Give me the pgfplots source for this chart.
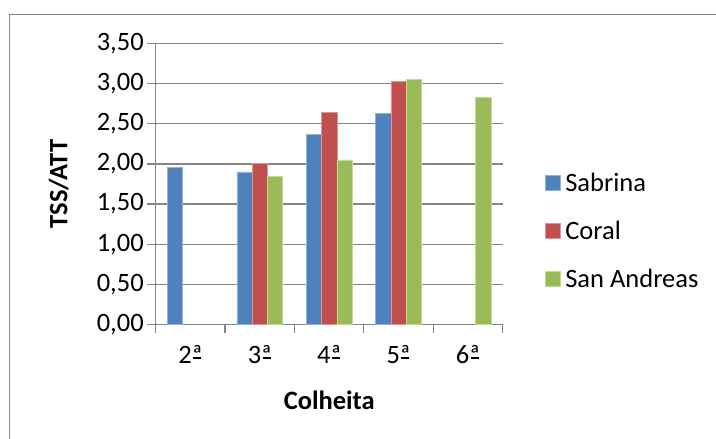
\documentclass[border=0pt]{standalone}
\usepackage{pgfplots}
\pgfplotsset{compat=1.18}
\usepackage{fontspec}
\setmainfont{Carlito}

\definecolor{sabrina}{HTML}{4F81BD}
\definecolor{coral}{HTML}{C0504D}
\definecolor{sanandreas}{HTML}{9BBB59}
\definecolor{axgray}{HTML}{868686}

\newcommand{\chartfont}{\fontsize{26.5}{31}\selectfont}
% ordinal indicator with its underline
\newcommand{\oa}{\setbox0\hbox{ª}\rlap{\hspace{0.05em}\rule[0.2em]{\dimexpr\wd0-0.1em\relax}{0.055em}}\box0}

\begin{document}
\begin{tikzpicture}
\useasboundingbox (0,0) rectangle (716pt,439pt);
% outer chart frame
\draw[axgray, line width=1pt] (9.5pt,-5pt) -- (9.5pt,424.3pt) -- (730pt,424.3pt);
\begin{axis}[
  at={(155.7pt,114.7pt)}, anchor=south west,
  scale only axis, width=347pt, height=280.6pt,
  xmin=-0.5, xmax=4.5, ymin=0, ymax=3.5,
  axis x line=bottom, axis y line=left,
  axis line style={-, axgray, line width=1.2pt},
  ytick={0,0.5,1,1.5,2,2.5,3,3.5},
  ymajorgrids, grid style={axgray, line width=1.2pt},
  tick style={axgray, line width=1.2pt},
  tick align=outside, major tick length=8.5pt,
  xtick={-0.5,0.5,1.5,2.5,3.5,4.5}, xticklabels={},
  extra x ticks={0,1,2,3,4},
  extra x tick labels={2\oa,3\oa,4\oa,5\oa,6\oa},
  extra x tick style={major tick length=0pt, xticklabel style={yshift=-18pt}},
  ticklabel style={font=\chartfont},
  /pgf/number format/assume math mode=true,
  yticklabel style={/pgf/number format/.cd, fixed, fixed zerofill, precision=2, use comma},
  xlabel={Colheita},
  xlabel style={font=\bfseries\chartfont, at={(axis description cs:0.5,-0.271)}, anchor=center},
  ylabel={TSS/ATT},
  ylabel style={font=\bfseries\chartfont, at={(axis description cs:-0.2795,0.5)}, anchor=center},
  ybar=0pt, bar width=15.3pt,
  legend style={draw=none, fill=none, font=\chartfont, at={(axis description cs:1.122,0.3325)}, anchor=west,
    inner sep=0pt, row sep=24pt, cells={anchor=west},
    nodes={inner xsep=4.5pt}},
  legend image code/.code={\fill[#1] (0pt,-7.5pt) rectangle (15pt,7.5pt);},
]
\addplot[fill=sabrina, draw=sabrina!60!white, line width=0.6pt]
  coordinates {(0,1.96) (1,1.90) (2,2.37) (3,2.63)};
\addplot[fill=coral, draw=coral!60!white, line width=0.6pt]
  coordinates {(1,2.01) (2,2.64) (3,3.03)};
\addplot[fill=sanandreas, draw=sanandreas!60!white, line width=0.6pt]
  coordinates {(1,1.84) (2,2.05) (3,3.05) (4,2.83)};
\legend{Sabrina, Coral, San Andreas}
\end{axis}
\end{tikzpicture}
\end{document}
